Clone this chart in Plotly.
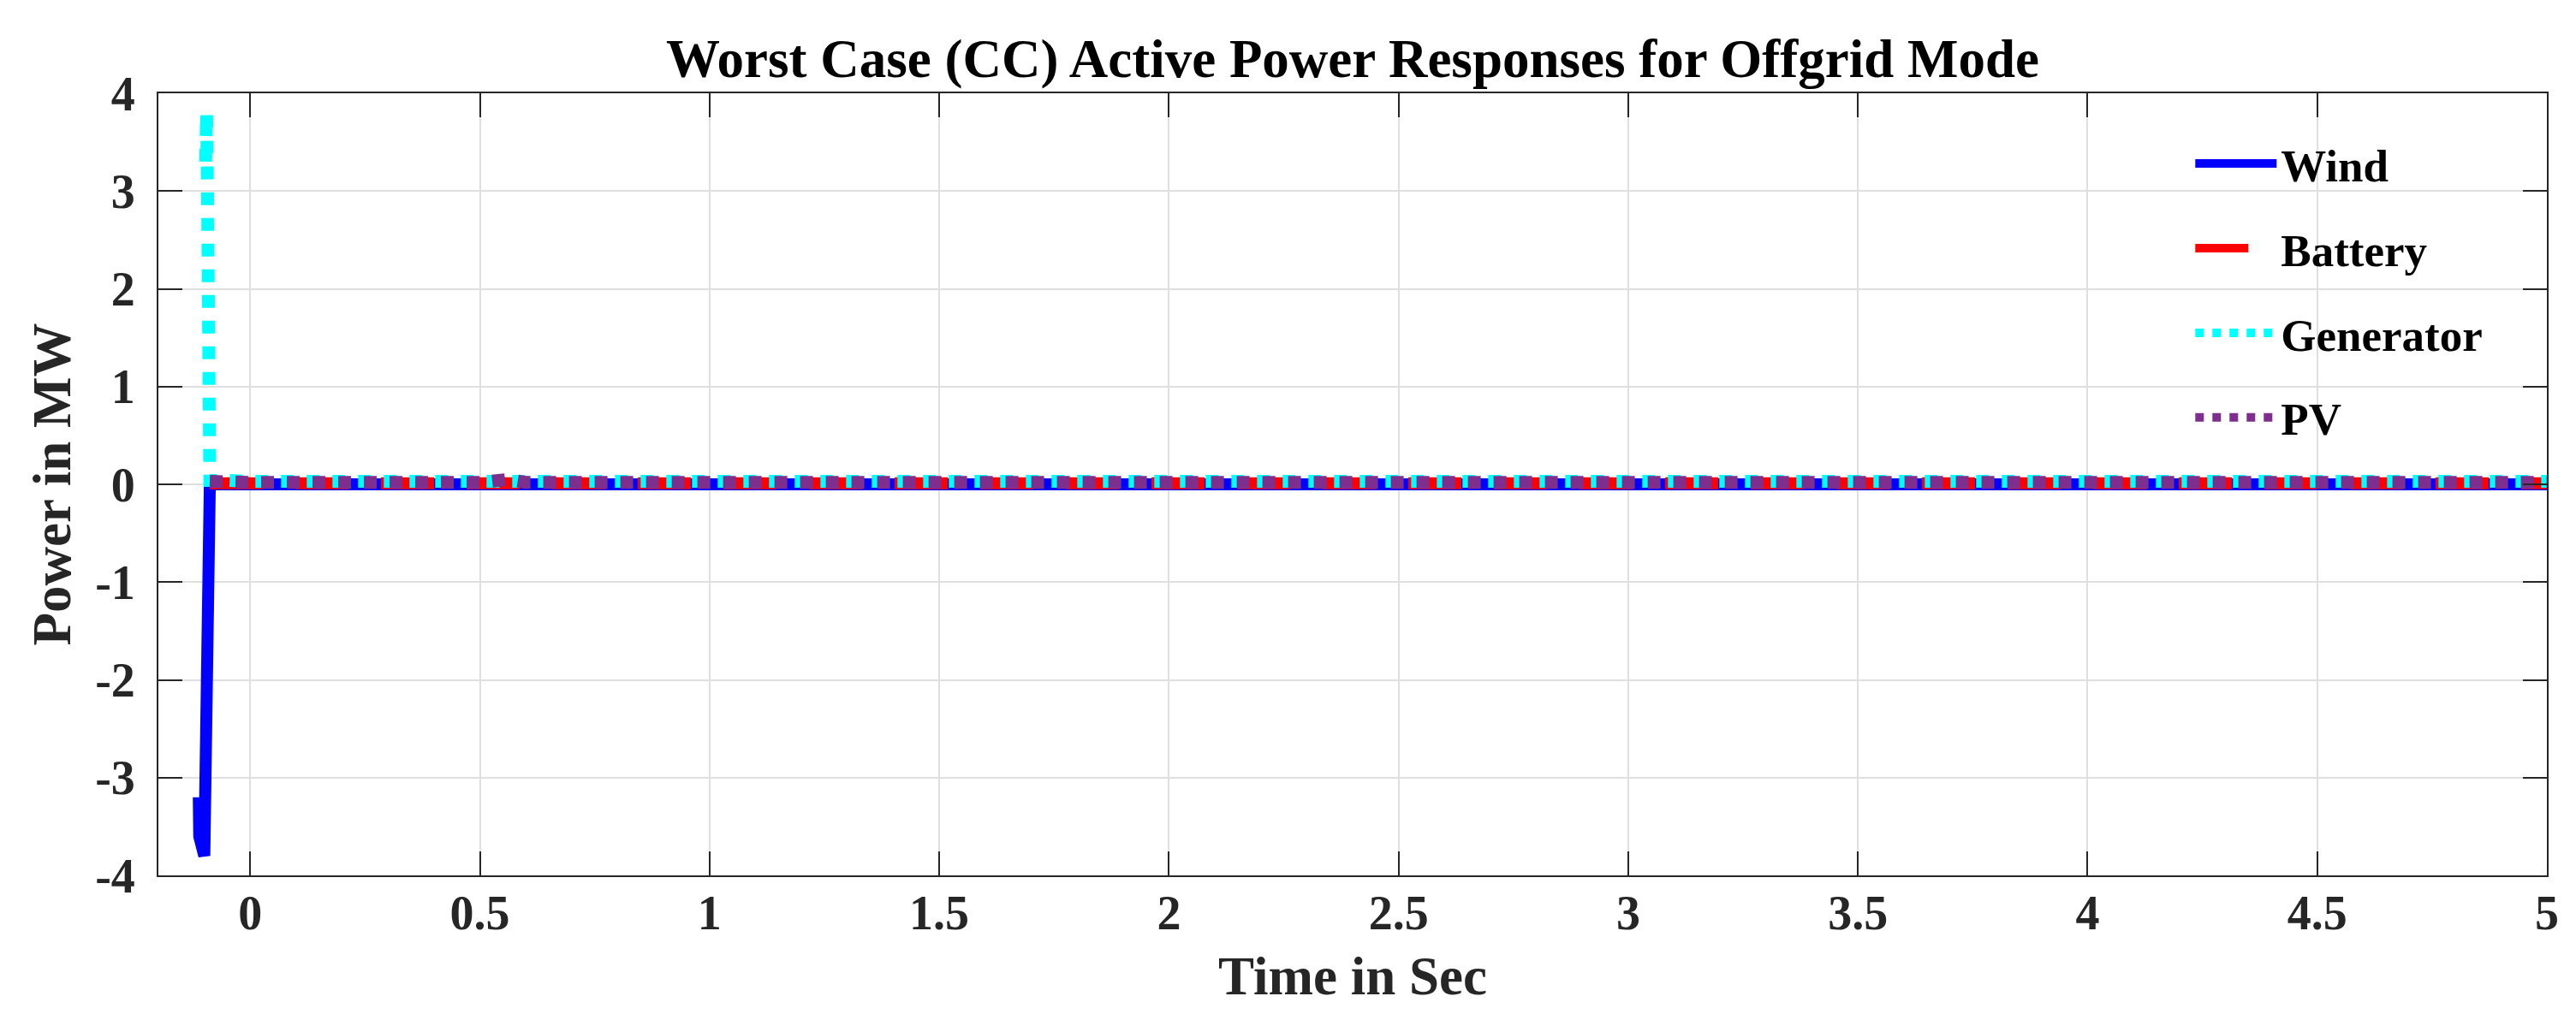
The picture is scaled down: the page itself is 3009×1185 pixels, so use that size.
import plotly.graph_objects as go

# ---- data ----
t_wind = [-0.112, -0.111, -0.100, -0.097, -0.094, -0.091, -0.088, 0.0, 0.5, 1.0, 2.0, 3.0, 4.0, 5.0]
p_wind = [-3.2, -3.6, -3.8, -3.0, -2.0, -1.0, 0.0, 0.0, 0.0, 0.0, 0.0, 0.0, 0.0, 0.0]

t_batt = [-0.088, 0.0, 0.5, 1.0, 2.0, 3.0, 4.0, 5.0]
p_batt = [0.01, 0.01, 0.01, 0.01, 0.01, 0.01, 0.01, 0.01]

t_gen = [-0.097, -0.096, -0.095, -0.094, -0.093, -0.092, -0.091, -0.090, -0.089, -0.088,
         -0.05, 0.0, 0.5, 1.0, 2.0, 3.0, 4.0, 5.0]
p_gen = [3.3, 3.6, 3.8, 3.5, 3.0, 2.4, 1.8, 1.2, 0.6, 0.04,
         0.04, 0.03, 0.03, 0.03, 0.03, 0.03, 0.03, 0.03]

t_pv = [-0.088, 0.0, 0.50, 0.54, 0.56, 0.60, 1.0, 2.0, 3.0, 4.0, 5.0]
p_pv = [0.03, 0.02, 0.02, 0.05, 0.05, 0.02, 0.02, 0.02, 0.02, 0.02, 0.02]

x_tickvals = [0, 0.5, 1, 1.5, 2, 2.5, 3, 3.5, 4, 4.5, 5]
x_ticktext = ["0", "0.5", "1", "1.5", "2", "2.5", "3", "3.5", "4", "4.5", "5"]
y_tickvals = [-4, -3, -2, -1, 0, 1, 2, 3, 4]
y_ticktext = ["-4", "-3", "-2", "-1", "0", "1", "2", "3", "4"]

series_names = ["Wind", "Battery", "Generator", "PV"]

# ---- figure ----
FONT = "Liberation Serif"
AX = "#262626"
GRID = "#dfdfdf"

fig = go.Figure()
fig.add_trace(go.Scatter(x=t_wind, y=p_wind, mode="lines", name=series_names[0],
                         legendgroup="a",
                         line=dict(color="#0000ff", width=14)))
fig.add_trace(go.Scatter(x=t_batt, y=p_batt, mode="lines", name=series_names[1],
                         legendgroup="b",
                         line=dict(color="#ff0000", width=14, dash="62px,38px")))
fig.add_trace(go.Scatter(x=t_gen, y=p_gen, mode="lines", name=series_names[2],
                         legendgroup="c",
                         line=dict(color="#00ffff", width=15, dash="dot")))
fig.add_trace(go.Scatter(x=t_pv, y=p_pv, mode="lines", name=series_names[3],
                         legendgroup="d",
                         line=dict(color="#7e2f8e", width=15, dash="dot")))

axis_common = dict(
    showline=True, linecolor=AX, linewidth=2, mirror="ticks",
    ticks="inside", ticklen=28, tickwidth=2, tickcolor=AX,
    showgrid=True, gridcolor=GRID, gridwidth=1.5,
    zeroline=False,
    tickfont=dict(family=FONT, size=56, color=AX, weight="bold"),
)

fig.update_layout(
    width=3009, height=1185,
    margin=dict(l=177, r=42, t=101, b=170),
    paper_bgcolor="white", plot_bgcolor="white",
    title=dict(text="Worst Case (CC) Active Power Responses for Offgrid Mode",
               font=dict(family=FONT, size=63, color="black", weight="bold"),
               x=0.5, xref="paper", xanchor="center",
               y=1, yref="paper", yanchor="bottom", pad=dict(b=19)),
    xaxis=dict(range=[-0.2, 5], tickvals=x_tickvals, ticktext=x_ticktext,
               ticklabelstandoff=-6,
               title=dict(text="Time in Sec", standoff=21,
                          font=dict(family=FONT, size=63, color=AX, weight="bold")),
               **axis_common),
    yaxis=dict(range=[-4, 4], tickvals=y_tickvals, ticktext=y_ticktext,
               ticklabelstandoff=14,
               title=dict(text="Power in MW", standoff=8,
                          font=dict(family=FONT, size=63, color=AX, weight="bold")),
               **axis_common),
    legend=dict(x=0.851, y=0.955, xanchor="left", yanchor="top",
                bgcolor="rgba(0,0,0,0)", borderwidth=0,
                font=dict(family=FONT, size=53, color="black", weight="bold"),
                itemwidth=95, tracegroupgap=27),
    showlegend=True,
)

fig.write_html("out.html")
